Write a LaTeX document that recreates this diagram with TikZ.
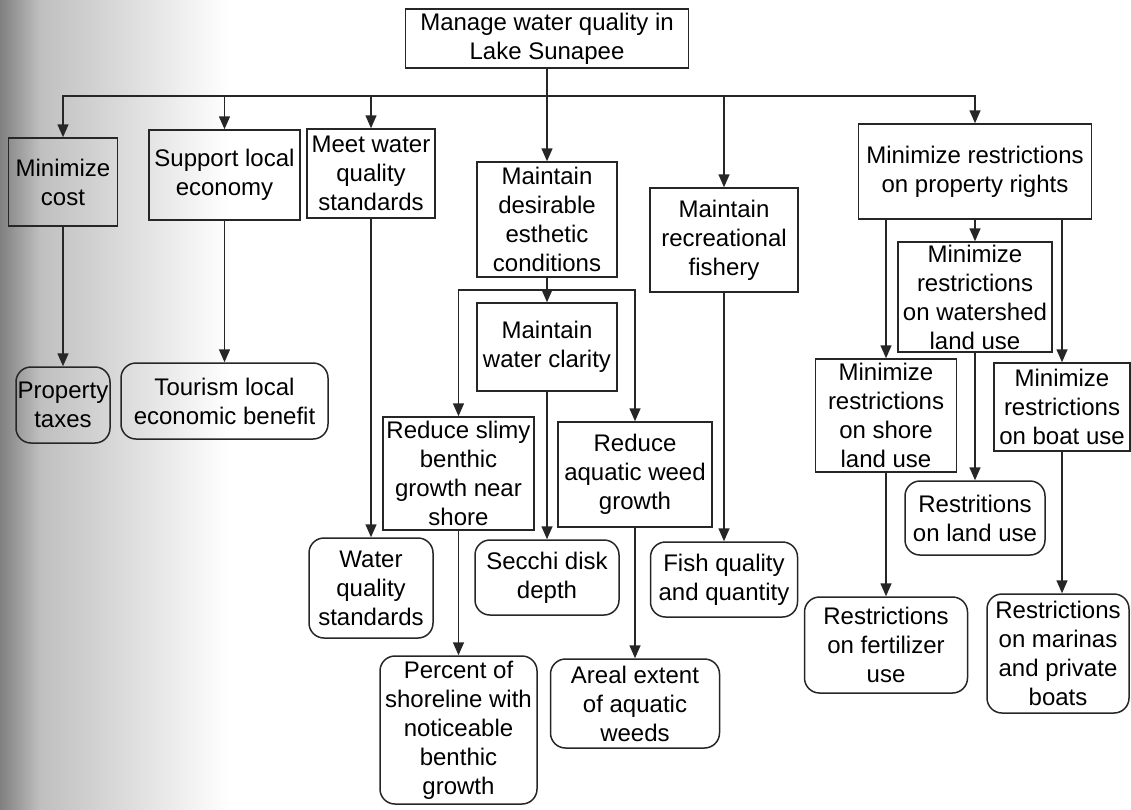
\documentclass[tikz,border=0pt]{standalone}
\usepackage{fontspec}
\setmainfont{Liberation Sans}
\usetikzlibrary{arrows.meta}
\tikzset{
  box/.style={draw=black!85, line width=1.5pt, inner sep=0pt, align=center,
    font=\fontsize{24}{29}\selectfont, text=black},
  rbox/.style={box, rounded corners=15pt},
  arr/.style={draw=black!85, line width=1.5pt, -{Triangle[length=13pt,width=11pt]}},
  arrboth/.style={draw=black!85, line width=1.5pt, {Triangle[length=13pt,width=11pt]}-{Triangle[length=13pt,width=11pt]}},
}
\begin{document}
\begin{tikzpicture}[x=1pt,y=-1pt]
\useasboundingbox (0,0) rectangle (1131,809);
% scanned page shading at left edge
\shade[left color=black!50, right color=black!25] (0,0) rectangle (40,809);
\shade[left color=black!25, right color=white] (40,0) rectangle (230,809);

% top
\node[box, minimum width=283pt, minimum height=59pt] (top) at (547,38.5) {Manage water quality in\\Lake Sunapee};
\coordinate (busy) at (0,96);

% level 1
\node[box, minimum width=109pt, minimum height=88pt] (mc) at (63,182) {Minimize\\cost};
\node[box, minimum width=151pt, minimum height=90pt] (sle) at (224.5,175) {Support local\\economy};
\node[box, minimum width=128pt, minimum height=89pt] (mw) at (371,173.5) {Meet water\\quality\\standards};
\node[box, minimum width=140pt, minimum height=115pt] (esth) at (547,219.5) {Maintain\\desirable\\esthetic\\conditions};
\node[box, minimum width=148pt, minimum height=104pt] (fish) at (724,240) {Maintain\\recreational\\fishery};
\node[box, minimum width=233pt, minimum height=95pt] (pr) at (975,171.5) {Minimize restrictions\\on property rights};

% attributes / sub objectives
\node[rbox, minimum width=94pt, minimum height=76pt] (tax) at (63,405) {Property\\taxes};
\node[rbox, minimum width=207pt, minimum height=76pt] (tour) at (224.5,401) {Tourism local\\economic benefit};
\node[box, minimum width=140pt, minimum height=88pt] (wc) at (547,347) {Maintain\\water clarity};
\coordinate (suby) at (0,290);
\node[box, minimum width=151pt, minimum height=113pt] (rs) at (458.5,473.5) {Reduce slimy\\benthic\\growth near\\shore};
\node[box, minimum width=154pt, minimum height=105pt] (ra) at (635,474.5) {Reduce\\aquatic weed\\growth};
\node[rbox, minimum width=124pt, minimum height=100pt] (wqs) at (371,588) {Water\\quality\\standards};
\node[rbox, minimum width=144pt, minimum height=75pt] (sec) at (547,577.5) {Secchi disk\\depth};
\node[rbox, minimum width=147pt, minimum height=75pt] (fq) at (724,579.5) {Fish quality\\and quantity};
\node[rbox, minimum width=157pt, minimum height=148pt] (pct) at (458.5,730) {Percent of\\shoreline with\\noticeable\\benthic\\growth};
\node[rbox, minimum width=169pt, minimum height=89pt] (are) at (635,703.5) {Areal extent\\of aquatic\\weeds};

% property rights branch
\node[box, minimum width=154pt, minimum height=110pt] (ws) at (975,297) {Minimize\\restrictions\\on watershed\\land use};
\node[box, minimum width=141pt, minimum height=113pt] (sh) at (886,415.5) {Minimize\\restrictions\\on shore\\land use};
\node[box, minimum width=136pt, minimum height=88pt] (bo) at (1062,407) {Minimize\\restrictions\\on boat use};
\node[rbox, minimum width=140pt, minimum height=74pt] (lu) at (975,518) {Restritions\\on land use};
\node[rbox, minimum width=163pt, minimum height=96pt] (fe) at (886,645) {Restrictions\\on fertilizer\\use};
\node[rbox, minimum width=142pt, minimum height=119pt] (ma) at (1058,653.5) {Restrictions\\on marinas\\and private\\boats};

% connectors level 1
\draw[arrboth] (mc.north) -- (mc.north |- busy) -- (pr.north |- busy) -- (pr.north);
\draw[arr] (sle.north |- busy) -- (sle.north);
\draw[arr] (mw.north |- busy) -- (mw.north);
\draw[arr] (top.south) -- (esth.north);
\draw[arr] (fish.north |- busy) -- (fish.north);

\draw[arr] (mc.south) -- (tax.north);
\draw[arr] (sle.south) -- (tour.north);
\draw[arr] (mw.south) -- (wqs.north);
\draw[arr] (fish.south) -- (fq.north);

% esthetic branch
\draw[arr] (esth.south) -- (wc.north);
\draw[arrboth] (rs.north) -- (rs.north |- suby) -- (ra.north |- suby) -- (ra.north);
\draw[arr] (wc.south) -- (sec.north);
\draw[arr] (rs.south) -- (pct.north);
\draw[arr] (ra.south) -- (are.north);

% property branch
\draw[arr] (pr.south) -- (ws.north);
\draw[arr] (pr.south -| sh.north) -- (sh.north);
\draw[arr] (pr.south -| bo.north) -- (bo.north);
\draw[arr] (ws.south) -- (lu.north);
\draw[arr] (sh.south) -- (fe.north);
\draw[arr] (bo.south) -- (bo.south |- ma.north);
\end{tikzpicture}
\end{document}
